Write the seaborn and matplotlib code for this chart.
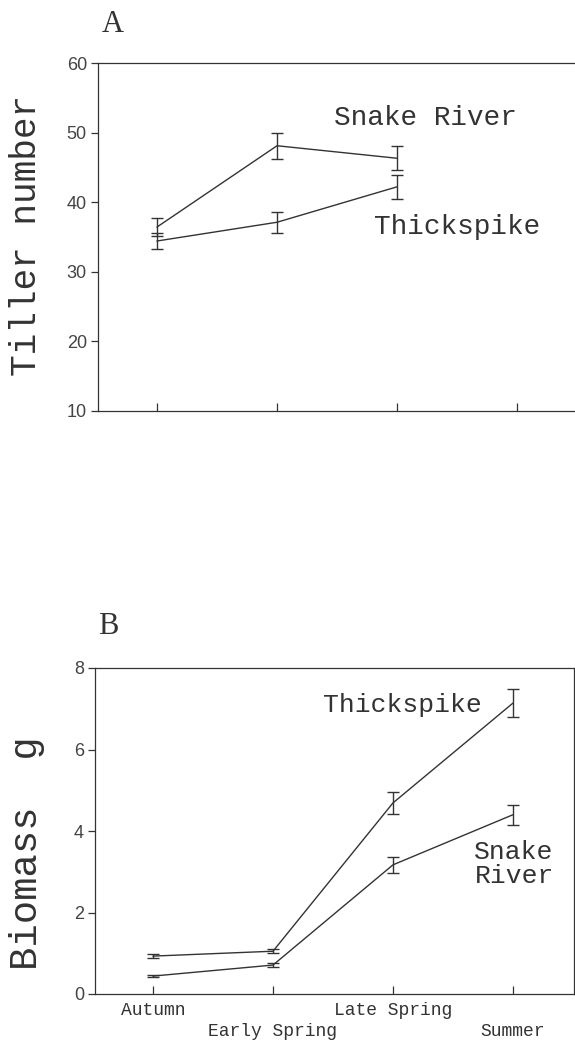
import pandas as pd
import seaborn as sns
import matplotlib.pyplot as plt

# season categories along the x axis
seasons = ["Autumn", "Early Spring", "Late Spring", "Summer"]
season_ticks = ["Autumn", "\nEarly Spring", "Late Spring", "\nSummer"]

# A: tiller number (mean and SE), no summer count
tiller_snake = [36.4, 48.1, 46.3]
tiller_snake_se = [1.3, 1.9, 1.75]
tiller_thick = [34.4, 37.1, 42.2]
tiller_thick_se = [1.2, 1.5, 1.75]

# B: biomass in g (mean and SE)
bio_thick = [0.93, 1.05, 4.69, 7.14]
bio_thick_se = [0.05, 0.05, 0.27, 0.35]
bio_snake = [0.44, 0.71, 3.17, 4.40]
bio_snake_se = [0.02, 0.04, 0.20, 0.25]

ink = "#333333"
mono = "Liberation Mono"

sns.set_style("white")
plt.rcParams["font.family"] = ["Liberation Sans", "DejaVu Sans"]


def armar_df(snake, snake_se, thick, thick_se):
    filas = []
    for i, (v, e) in enumerate(zip(snake, snake_se)):
        filas.append({"pos": i, "season": seasons[i], "valor": v, "se": e, "cultivar": "Snake River"})
    for i, (v, e) in enumerate(zip(thick, thick_se)):
        filas.append({"pos": i, "season": seasons[i], "valor": v, "se": e, "cultivar": "Thickspike"})
    return pd.DataFrame(filas)


def dibujar(ax, df):
    sns.lineplot(data=df, x="pos", y="valor", hue="cultivar",
                 palette={"Snake River": ink, "Thickspike": ink},
                 estimator=None, linewidth=1.0, legend=False, ax=ax)
    for _, g in df.groupby("cultivar"):
        ax.errorbar(g["pos"], g["valor"], yerr=g["se"], fmt="none",
                    ecolor=ink, elinewidth=1.0, capsize=4, capthick=1.0)


def estilo(ax):
    for s in ax.spines.values():
        s.set_color(ink)
        s.set_linewidth(0.9)
    ax.tick_params(axis="y", direction="out", length=5, width=0.9,
                   color=ink, labelcolor="#444444", labelsize=13, pad=3, left=True)
    ax.tick_params(axis="x", direction="in", length=6, width=0.9,
                   color=ink, bottom=True)
    ax.set_xlabel("")
    ax.set_ylabel("")


fig = plt.figure(figsize=(5.75, 10.42), dpi=100)
W, H = 575, 1042

# ---- panel A
axA = fig.add_axes([98 / W, 1 - 410.7 / H, (575 - 98) / W, (410.7 - 63) / H])
dfA = armar_df(tiller_snake, tiller_snake_se, tiller_thick, tiller_thick_se)
dibujar(axA, dfA)
axA.set_xlim(-0.49, 3.48)
axA.set_ylim(10, 60)
axA.set_yticks([10, 20, 30, 40, 50, 60])
axA.set_xticks(range(len(seasons)))
axA.set_xticklabels([])
estilo(axA)
axA.spines["right"].set_visible(False)
axA.text(1.475, 52.1, "Snake River", family=mono, fontsize=20, color=ink,
         ha="left", va="center")
axA.text(1.81, 36.4, "Thickspike", family=mono, fontsize=20, color=ink,
         ha="left", va="center")

# ---- panel B
axB = fig.add_axes([95 / W, 1 - 994 / H, (574 - 95) / W, (994 - 668) / H])
dfB = armar_df(bio_snake, bio_snake_se, bio_thick, bio_thick_se)
dibujar(axB, dfB)
axB.set_xlim(-0.483, 3.508)
axB.set_ylim(0, 8)
axB.set_yticks([0, 2, 4, 6, 8])
axB.set_xticks(range(len(seasons)))
axB.set_xticklabels(season_ticks, family=mono, fontsize=13, color=ink,
                    linespacing=1.25)
estilo(axB)
axB.tick_params(axis="x", pad=6)
axB.text(1.417, 7.09, "Thickspike", family=mono, fontsize=19, color=ink,
         ha="left", va="center")
axB.text(3.34, 3.18, "Snake\nRiver", family=mono, fontsize=19, color=ink,
         ha="right", va="center", multialignment="right", linespacing=1.0)

# axis titles and panel letters
fig.text(27 / W, 1 - 235 / H, "Tiller number", family=mono, fontsize=26,
         color=ink, rotation=90, ha="center", va="center")
fig.text(27 / W, 1 - 853 / H, "Biomass  g", family=mono, fontsize=28,
         color=ink, rotation=90, ha="center", va="center")
fig.text(113 / W, 1 - 25 / H, "A", family="Liberation Serif", fontsize=22,
         color=ink, ha="center", va="center")
fig.text(108 / W, 1 - 626 / H, "B", family="Liberation Serif", fontsize=22,
         color=ink, ha="center", va="center")

fig.savefig("out.png", dpi=100)
